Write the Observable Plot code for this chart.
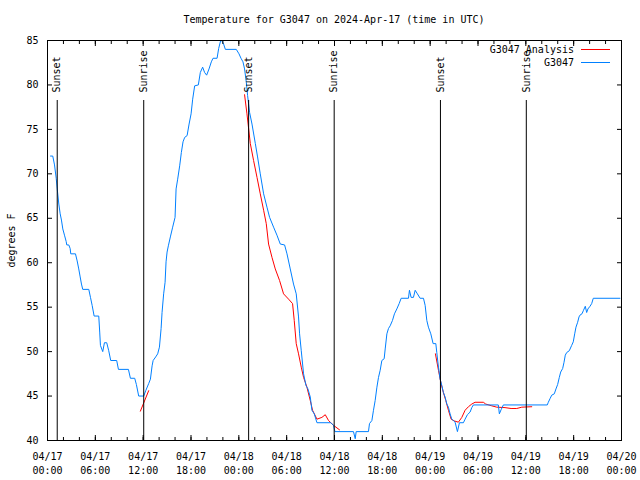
<!DOCTYPE html>
<html><head><meta charset="utf-8">
<script src="https://cdn.jsdelivr.net/npm/d3@7"></script>
<script src="https://cdn.jsdelivr.net/npm/@observablehq/plot@0.6"></script>
<style>
body{margin:0;background:#fff;}
#wrap{position:relative;width:640px;height:480px;font-family:"DejaVu Sans Mono",monospace;font-size:10px;color:#000;background:#fff;}
#title{height:30px;box-sizing:border-box;padding-top:13px;margin-left:47px;width:574px;text-align:center;line-height:13px;white-space:nowrap;}
#legend{position:absolute;top:43px;right:30px;}
.row{display:flex;align-items:center;justify-content:flex-end;height:13px;line-height:13px;white-space:nowrap;}
.sw{display:inline-block;width:29px;height:0;border-top:1px solid;margin-left:7px;}
</style></head>
<body>
<div id="wrap">
<div id="title">Temperature for G3047 on 2024-Apr-17 (time in UTC)</div>
<div id="chart"></div>
<div id="legend"></div>
</div>
<script>
// hours after 2024-04-17 00:00 UTC
const blueHours = [0.38,0.66,0.88,1.09,1.22,1.42,1.59,1.75,1.92,2.13,
2.34,2.42,2.67,2.84,2.92,3.51,3.72,3.92,4.10,4.26,
4.42,5.18,5.39,5.60,5.85,6.43,6.55,6.64,6.93,7.14,
7.43,7.68,7.93,8.68,8.90,10.15,10.40,10.94,11.15,11.44,
12.07,12.32,12.69,12.91,13.12,13.25,13.57,13.82,14.04,14.25,
14.37,14.57,14.75,14.87,15.00,15.16,15.41,15.70,16.00,16.13,
16.33,16.58,16.79,17.00,17.21,17.51,17.76,18.01,18.21,18.46,
18.92,19.17,19.46,19.71,19.96,20.26,20.55,20.76,21.27,21.47,
21.72,21.84,22.09,22.31,23.68,24.02,24.27,24.52,24.72,24.94,
25.10,25.35,25.65,26.07,26.35,26.69,27.11,27.53,27.86,28.36,
28.78,29.20,29.74,30.04,30.45,30.86,31.20,31.49,31.62,31.83,
32.12,32.42,32.67,32.96,33.17,33.46,33.80,35.55,35.88,36.05,
38.38,38.60,38.72,40.26,40.39,40.69,40.89,41.10,41.32,41.52,
41.73,41.94,42.23,42.36,42.57,42.77,42.98,43.27,43.52,43.82,
44.11,44.36,45.28,45.40,45.61,45.90,46.12,46.40,46.74,47.16,
47.37,47.58,47.78,48.08,48.37,48.71,48.83,49.04,49.25,49.46,
49.66,49.87,50.09,50.29,50.50,50.71,50.91,51.13,51.42,51.67,
52.17,52.38,52.67,53.01,53.22,53.42,56.55,56.68,56.89,57.18,
62.69,62.82,63.03,63.25,63.57,63.78,63.99,64.20,64.37,64.62,
64.79,64.95,65.13,65.45,65.75,65.95,66.13,66.29,66.50,66.67,
66.79,67.04,67.21,67.46,67.63,67.79,68.05,68.26,68.46,71.80];
const blueTemps = [72,72,71,69.5,68.3,66.6,65.5,64.8,63.8,63.1,
62.4,62,62,61.6,61,61,60.2,59.3,58.4,57.6,
57,57,56.1,55.2,54,54,52.2,50.7,50,51,
51,50.1,49,49,48,48,47,47,46.3,45,
45,45.6,46.4,46.9,48.4,49,49.4,49.75,50.5,52.6,
54.4,56.5,57.8,60.1,61.2,61.9,62.9,64,65.1,68.3,
69.4,70.9,72.4,73.6,74.1,74.3,75.6,76.75,78.4,79.9,
80,81.4,82,81.4,81.1,81.8,82.6,83,83,84.1,
85,85,84.6,84,84,83.5,83,82.6,81.8,80.3,
78.8,76.9,75.6,73.4,71.9,70,67.75,66.25,65.1,64,
63.1,62.1,62,61,59.3,57.6,56.5,53.9,52,50.1,
47.5,46.2,45.8,44.9,43.4,43,42,42,41.7,41,
41,40.2,41,41,41.9,42.25,43.4,44.5,46,47.1,
47.9,49,49.2,50.3,52,52.6,52.9,53.5,54.25,54.8,
55.4,56,56,56.9,56.1,56.1,56.9,56.5,56,56,
55.2,53.5,52.75,52,50.9,50.9,49.9,48.25,46.9,46.2,
45.4,44.9,44.1,43.75,43,42.4,42.25,42.06,41,42,
42,42.4,42.9,43.2,43.7,44,44,43,43.45,44,
44,44.3,44.7,45.1,45.25,45.8,46.3,47.1,47.7,48.1,
48.8,49.6,49.9,50.1,50.7,51.1,52,52.75,53.3,53.9,
54.1,54.25,54.6,55.1,54.4,54.8,55.1,55.4,56,56];

const redHours = [11.65,12.69,
24.72,25.02,25.44,25.85,26.28,26.69,27.11,27.44,27.73,28.16,28.57,29.11,29.61,30.24,30.74,30.95,31.20,31.49,31.83,32.12,32.54,32.96,33.25,33.80,34.42,34.84,35.25,35.88,36.63,
48.66,49.04,49.37,49.66,49.96,50.29,50.63,51.04,51.54,51.97,52.38,52.80,53.22,53.63,54.67,54.97,55.73,56.35,57.39,58.15,58.86,59.49,60.74];
const redTemps = [43.3,45.6,
78.9,76.75,73.4,71.5,69.6,67.75,65.9,64.4,62.1,60.6,59.3,58,56.5,55.9,55.4,53.5,50.9,49.75,48.25,47.1,46,44.5,43.4,42.4,42.6,42.9,42.25,41.7,41.2,
49.75,47.9,46.4,45.4,44.5,43.4,42.4,42.2,42.06,42.6,43.4,43.8,44.1,44.3,44.3,44.1,43.9,43.75,43.7,43.6,43.6,43.75,43.8];
const redSegments = [1,1,
2,2,2,2,2,2,2,2,2,2,2,2,2,2,2,2,2,2,2,2,2,2,2,2,2,2,2,2,2,
3,3,3,3,3,3,3,3,3,3,3,3,3,3,3,3,3,3,3,3,3,3,3];

const sunHours = [1.22,12.07,25.23,35.96,49.29,60.06];
const sunLabels = ["Sunset","Sunrise","Sunset","Sunrise","Sunset","Sunrise"];

const yTicks = [40,45,50,55,60,65,70,75,80,85];
const xMajorHours = [0,6,12,18,24,30,36,42,48,54,60,66,72];
const xMinorHours = d3.range(0,73,2);

const seriesNames = ["G3047 Analysis","G3047"];
const seriesColors = ["#ff0000","#0080ff"];

const t0 = Date.UTC(2024,3,17);
const toDate = h => new Date(t0 + h*3600e3);
const blue = blueHours.map((h,i)=>({t:toDate(h), v:blueTemps[i]}));
const red = redHours.map((h,i)=>({t:toDate(h), v:redTemps[i], s:redSegments[i]}));
const sun = sunHours.map((h,i)=>({t:toDate(h), label:sunLabels[i]}));
const xMajor = xMajorHours.map(toDate);
const xMinor = xMinorHours.map(toDate);
const fmtD = d3.utcFormat("%m/%d"), fmtT = d3.utcFormat("%H:%M");

const chart = Plot.plot({
  width:640, height:450,
  marginTop:10, marginBottom:40, marginLeft:47, marginRight:19,
  style:{fontFamily:'"DejaVu Sans Mono", monospace', fontSize:"10px", background:"#fff", color:"#000"},
  x:{type:"utc", domain:[toDate(0), toDate(72)]},
  y:{domain:[40,85]},
  marks:[
    Plot.line(red, {x:"t", y:"v", z:"s", stroke:seriesColors[0], strokeWidth:1}),
    Plot.line(blue, {x:"t", y:"v", stroke:seriesColors[1], strokeWidth:1}),
    Plot.ruleX(sun, {x:"t", insetTop:60, stroke:"#000"}),
    Plot.text(sun, {x:"t", text:"label", frameAnchor:"top", rotate:-90, textAnchor:"start", lineAnchor:"middle", dy:52, fill:"#000"}),
    Plot.frame({stroke:"#000"}),
    Plot.axisX({anchor:"bottom", ticks:xMajor, tickSize:0, tickPadding:10, lineHeight:1.35,
      tickFormat:d => fmtD(d) + "\n" + fmtT(d), label:null}),
    Plot.axisX({anchor:"bottom", ticks:xMajor, tickSize:-5, fill:"none", label:null}),
    Plot.axisX({anchor:"bottom", ticks:xMinor, tickSize:-3, fill:"none", label:null}),
    Plot.axisX({anchor:"top", ticks:xMajor, tickSize:-5, fill:"none", label:null}),
    Plot.axisX({anchor:"top", ticks:xMinor, tickSize:-3, fill:"none", label:null}),
    Plot.axisY({anchor:"left", ticks:yTicks, tickSize:0, tickPadding:9, label:"degrees F", labelAnchor:"center", labelOffset:40, labelArrow:"none"}),
    Plot.axisY({anchor:"left", ticks:yTicks, tickSize:-5, fill:"none", label:null}),
    Plot.axisY({anchor:"right", ticks:yTicks, tickSize:-5, fill:"none", label:null})
  ]
});
document.getElementById("chart").appendChild(chart);

const legend = document.getElementById("legend");
seriesNames.forEach((name,i)=>{
  const row = document.createElement("div");
  row.className = "row";
  const s = document.createElement("span");
  s.textContent = name;
  const sw = document.createElement("span");
  sw.className = "sw";
  sw.style.borderTopColor = seriesColors[i];
  row.appendChild(s); row.appendChild(sw);
  legend.appendChild(row);
});
</script>
</body></html>
